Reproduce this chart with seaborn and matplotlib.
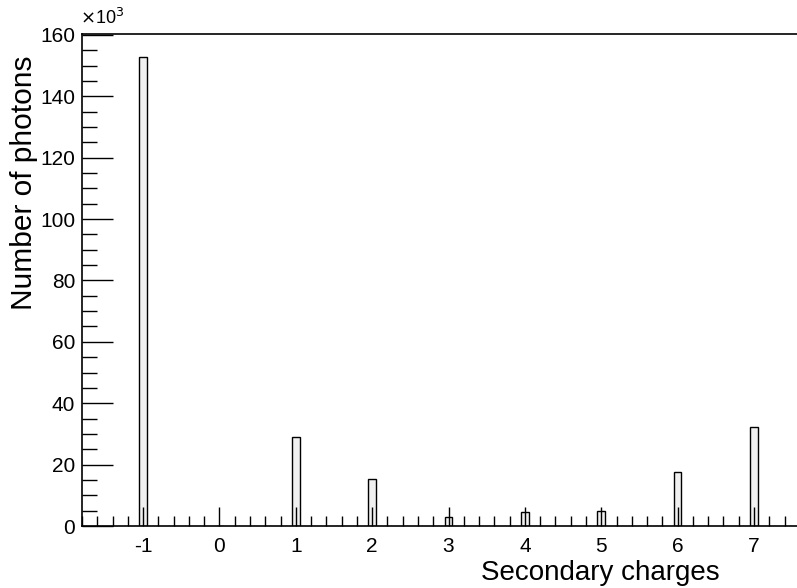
import numpy as np
import pandas as pd
import seaborn as sns
import matplotlib.pyplot as plt
from matplotlib.ticker import MultipleLocator

# Data (counts in units of 10^3)
charges = [-1, 1, 2, 3, 4, 5, 6, 7]
photons_k = [152.7, 29.0, 15.2, 3.0, 4.5, 4.8, 17.7, 32.3]
x_ticks = [-1, 0, 1, 2, 3, 4, 5, 6, 7]
y_ticks = [0, 20, 40, 60, 80, 100, 120, 140, 160]

df = pd.DataFrame({'charge': charges, 'photons': photons_k})

sns.set_style('white')
plt.rcParams['font.family'] = ['Liberation Sans', 'DejaVu Sans']
plt.rcParams['axes.unicode_minus'] = False
plt.rcParams['text.color'] = 'black'
plt.rcParams['xtick.color'] = 'black'
plt.rcParams['ytick.color'] = 'black'

fig = plt.figure(figsize=(7.97, 5.88), dpi=100)
ax = fig.add_axes([82 / 797, 1 - 526 / 588, 715 / 797, (526 - 34) / 588])

sns.histplot(data=df, x='charge', weights='photons', discrete=True, shrink=0.1,
             color='#f0f0f0', edgecolor='black', linewidth=1, alpha=1, ax=ax)

ax.set_xlim(-1.80, 7.563)
ax.set_ylim(0, 160.3)
ax.set_xticks(x_ticks)
ax.set_yticks(y_ticks)
ax.xaxis.set_minor_locator(MultipleLocator(0.2))
ax.yaxis.set_minor_locator(MultipleLocator(5))
ax.tick_params(axis='x', which='major', direction='in', length=14, width=1,
               labelsize=15, pad=8, bottom=True, top=False)
ax.tick_params(axis='x', which='minor', direction='in', length=7, width=1,
               bottom=True, top=False)
ax.tick_params(axis='y', which='major', direction='in', length=22, width=1,
               labelsize=15, pad=5, left=True, right=False)
ax.tick_params(axis='y', which='minor', direction='in', length=11, width=1,
               left=True, right=False)
ax.set_axisbelow(False)

for side in ['left', 'bottom', 'top']:
    ax.spines[side].set_visible(True)
    ax.spines[side].set_color('black')
    ax.spines[side].set_linewidth(1.2)
ax.spines['right'].set_visible(False)

ax.set_xlabel('')
ax.set_ylabel('')
fig.text(720 / 797, 1 - 573 / 588, 'Secondary charges', ha='right', va='center', fontsize=20)
fig.text(24 / 797, 1 - 55 / 588, 'Number of photons', ha='center', va='top',
         rotation=90, fontsize=21.5)
fig.text(80 / 797, 1 - 18 / 588, r'$\times$10$^{3}$', ha='left', va='center', fontsize=13)

plt.savefig('out.png', dpi=100)
